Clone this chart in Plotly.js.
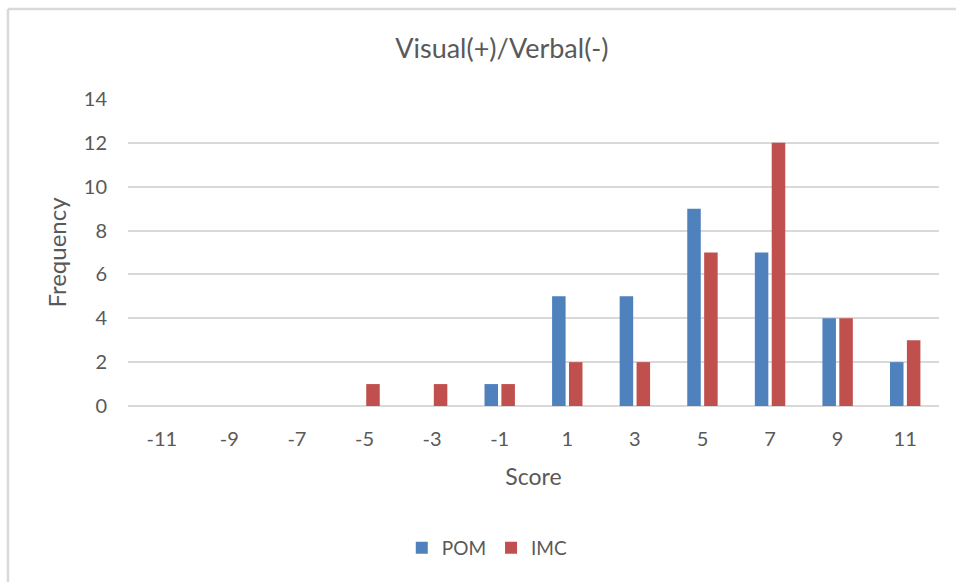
<!DOCTYPE html>
<html>
<head>
<meta charset="utf-8">
<script src="https://cdn.plot.ly/plotly-3.0.1.min.js"></script>
<style>html,body{margin:0;padding:0;background:#fff;}#chart{width:956px;height:582px;}</style>
</head>
<body>
<div id="chart"></div>
<script>
const categories = ["-11","-9","-7","-5","-3","-1","1","3","5","7","9","11"];
const pomValues = [0,0,0,0,0,1,5,5,9,7,4,2];
const imcValues = [0,0,0,1,1,1,2,2,7,12,4,3];
const yTicks = [0,2,4,6,8,10,12,14];

const font = "Lato, 'Open Sans', sans-serif";
const grey = "#595959";

const traces = [
  {type:"bar", name:"POM", x:categories, y:pomValues, marker:{color:"#4F81BD"}},
  {type:"bar", name:"IMC", x:categories, y:imcValues, marker:{color:"#C0504D"}}
];

const layout = {
  width:956, height:582,
  margin:{l:128, r:17, t:99, b:176},
  paper_bgcolor:"#fff", plot_bgcolor:"#fff",
  font:{family:font, color:grey, size:20},
  barmode:"group", bargap:0.5, bargroupgap:0.2,
  title:{text:"Visual(+)/Verbal(-)", font:{size:27, color:grey, family:font}, x:0.525, xanchor:"center", y:0.917, yanchor:"middle", xref:"container", yref:"container"},
  xaxis:{type:"category", title:{text:"Score", font:{size:23, color:grey}, standoff:19},
    ticks:"outside", ticklen:15, tickcolor:"rgba(0,0,0,0)", showline:false, showgrid:false,
    tickfont:{size:20, color:grey}},
  yaxis:{range:[0,14], tickvals:yTicks, title:{text:"Frequency", font:{size:24, color:grey}, standoff:10},
    ticks:"outside", ticklen:16, tickcolor:"rgba(0,0,0,0)", gridcolor:"#d9d9d9", gridwidth:2,
    zeroline:true, zerolinecolor:"#d9d9d9", zerolinewidth:2, tickfont:{size:20, color:grey}, fixedrange:true},
  legend:{orientation:"h", x:0.443, xanchor:"center", y:-0.4625, yanchor:"middle", font:{size:19, color:grey}, itemwidth:30},
  shapes:[
    {type:"line", xref:"paper", yref:"paper", x0:-0.148, x1:-0.148, y0:-0.6, y1:1.293, line:{color:"#d9d9d9", width:2.5}},
    {type:"line", xref:"paper", yref:"paper", x0:-0.148, x1:1.05, y0:1.293, y1:1.293, line:{color:"#d9d9d9", width:2.5}}
  ],
  showlegend:true
};

Plotly.newPlot("chart", traces, layout, {displayModeBar:false, staticPlot:true});
</script>
</body>
</html>
